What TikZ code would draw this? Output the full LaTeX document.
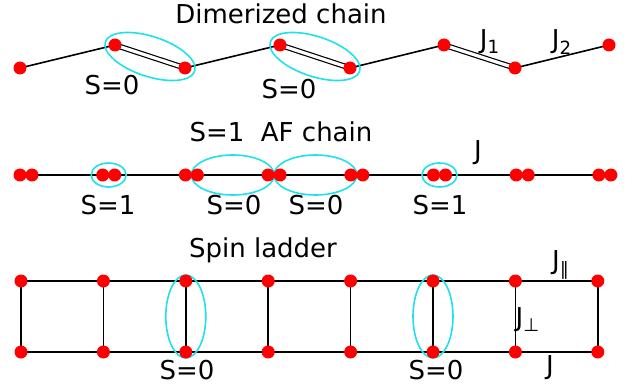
\documentclass[tikz,border=0pt]{standalone}
\usepackage{fontspec}
\setmainfont{DejaVu Sans}
\usetikzlibrary{calc,shapes.geometric}
\definecolor{ringcyan}{RGB}{30,225,235}

\begin{document}
\begin{tikzpicture}[x=0.5pt,y=-0.5pt,
  dot/.style={circle,fill=red,inner sep=0pt,minimum size=6.5pt},
  bond/.style={black,line width=0.8pt},
  dbond/.style={black,line width=0.6pt,double,double distance=1.6pt},
  ring/.style={draw=ringcyan,line width=0.8pt,ellipse,inner sep=0pt},
  lbl/.style={font=\fontsize{13}{15}\selectfont,inner sep=0pt}]
  \useasboundingbox (0,0) rectangle (627,385);

  % dimerized chain
  \node[lbl] (title1) at (281,14) {Dimerized chain};
  \foreach \i/\x/\y in {1/20/68,2/115/45,3/185/68,4/280/45,5/350/68,6/444/45,7/515/68,8/609/45}
    \coordinate (a\i) at (\x,\y);
  \draw[bond] (a1)--(a2) (a3)--(a4) (a5)--(a6) (a7)--(a8);
  \draw[dbond] (a2)--(a3) (a4)--(a5) (a6)--(a7);
  \node[ring,minimum width=47pt,minimum height=20pt,rotate=-18.2] (e1) at ($(a2)!0.5!(a3)$) {};
  \node[ring,minimum width=47pt,minimum height=20pt,rotate=-18.2] (e2) at ($(a4)!0.5!(a5)$) {};
  \foreach \i in {1,...,8} \node[dot] (da\i) at (a\i) {};
  \node[lbl] (s1) at (112,85) {S=0};
  \node[lbl] (s2) at (289,89) {S=0};
  \node[lbl] (j1) at (490,42) {J\textsubscript{1}};
  \node[lbl] (j2) at (562,42) {J\textsubscript{2}};

  % S=1 chain
  \node[lbl] (title2) at (281,132) {S=1\ \ AF chain};
  \foreach \k in {0,...,7}{
    \coordinate (pl\k) at (20+82.7*\k,175);
    \coordinate (pr\k) at (32+82.7*\k,175);}
  \draw[bond] (pl0)--(pr7);
  \node[ring,minimum width=17.5pt,minimum height=12pt] (e3) at ($(pl1)!0.5!(pr1)$) {};
  \node[ring,minimum width=41.5pt,minimum height=20pt] (e4) at ($(pr2)!0.5!(pl3)$) {};
  \node[ring,minimum width=41.5pt,minimum height=20pt] (e5) at ($(pr3)!0.5!(pl4)$) {};
  \node[ring,minimum width=17.5pt,minimum height=12pt] (e6) at ($(pl5)!0.5!(pr5)$) {};
  \foreach \k in {0,...,7}{
    \node[dot] (dl\k) at (pl\k) {};
    \node[dot] (dr\k) at (pr\k) {};}
  \node[lbl] (s3) at (108,205) {S=1};
  \node[lbl] (s4) at (234,205) {S=0};
  \node[lbl] (s5) at (316,205) {S=0};
  \node[lbl] (s6) at (440,205) {S=1};
  \node[lbl] (j3) at (478,153) {J};

  % spin ladder
  \node[lbl] (title3) at (263,250) {Spin ladder};
  \foreach \k in {0,...,7}{
    \coordinate (t\k) at (21+82.4*\k,281);
    \coordinate (b\k) at (21+82.4*\k,352);}
  \draw[bond] (t0)--(t7) (b0)--(b7);
  \foreach \k in {0,...,7} \draw[bond] (t\k)--(b\k);
  \node[ring,minimum width=20pt,minimum height=41.5pt] (e7) at ($(t2)!0.5!(b2)$) {};
  \node[ring,minimum width=20pt,minimum height=41.5pt] (e8) at ($(t5)!0.5!(b5)$) {};
  \foreach \k in {0,...,7}{
    \node[dot] (dt\k) at (t\k) {};
    \node[dot] (db\k) at (b\k) {};}
  \node[lbl] (s7) at (187,370) {S=0};
  \node[lbl] (s8) at (436,370) {S=0};
  \node[lbl] (j4) at (561,265) {J\textsubscript{∥}};
  \node[lbl] (j5) at (528,320) {J\textsubscript{⊥}};
  \node[lbl] (j6) at (550,368) {J};
\end{tikzpicture}
\end{document}
